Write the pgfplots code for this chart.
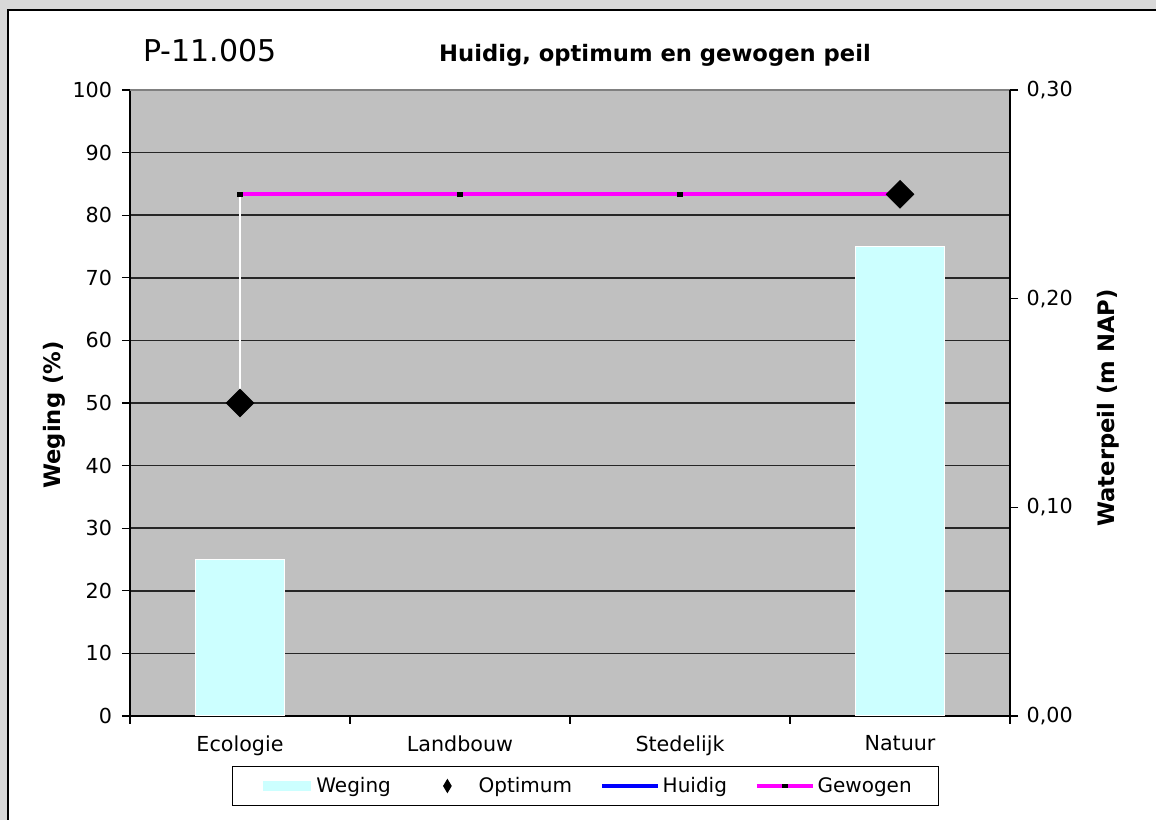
\documentclass[border=0pt]{standalone}
\usepackage{pgfplots}
\pgfplotsset{compat=1.18}
\usepackage{fontspec}
\setmainfont{DejaVu Sans}
\definecolor{bgout}{RGB}{216,216,216}
\definecolor{plotbg}{RGB}{192,192,192}
\definecolor{weg}{RGB}{204,255,255}
\definecolor{huid}{RGB}{0,0,255}
\definecolor{gew}{RGB}{255,0,255}
\pgfkeys{/pgf/number format/assume math mode=true}
\begin{document}
\begin{tikzpicture}
\useasboundingbox (0pt,0pt) rectangle (867pt,615pt);
\fill[bgout] (0pt,0pt) rectangle (867pt,615pt);
\filldraw[fill=white, draw=black, line width=1.1pt] (6pt,-15pt) rectangle (885pt,607.5pt);

\begin{axis}[
  at={(97.5pt,78pt)}, anchor=south west,
  width=660pt, height=469.5pt, scale only axis,
  xmin=-0.5, xmax=3.5, ymin=0, ymax=100,
  axis x line*=bottom, axis y line*=left,
  axis line style={black, line width=1.2pt},
  axis background/.style={fill=plotbg},
  ytick={0,10,...,100},
  ymajorgrids, grid style={black!85, line width=1.1pt},
  tick align=outside, major tick length=6pt,
  tick style={black, line width=1pt},
  xtick={-0.5,0.5,1.5,2.5,3.5}, xticklabels={},
  extra x ticks={0,1,2,3},
  extra x tick labels={Ecologie,Landbouw,Stedelijk,Natuur},
  extra x tick style={major tick length=0pt, tick style={draw=none}, grid=none,
    xticklabel style={yshift=-11pt}},
  tick label style={font=\fontsize{15.5}{18}\selectfont},
  yticklabel style={xshift=-4pt},
]
\addplot[ybar, bar width=67pt, fill=weg, draw=white, line width=1pt] coordinates {(0,25) (3,75)};
\draw[black!50, line width=1.2pt] (rel axis cs:0,1) -- (rel axis cs:1,1);
\end{axis}

\begin{axis}[
  at={(97.5pt,78pt)}, anchor=south west,
  width=660pt, height=469.5pt, scale only axis,
  xmin=-0.5, xmax=3.5, ymin=0, ymax=0.3,
  axis y line*=right, axis x line=none,
  axis line style={black, line width=1.2pt},
  ytick={0,0.1,0.2,0.3},
  tick align=outside, major tick length=6pt,
  tick style={black, line width=1pt},
  tick label style={font=\fontsize{15.5}{18}\selectfont},
  yticklabel style={xshift=3pt, /pgf/number format/fixed, /pgf/number format/fixed zerofill,
    /pgf/number format/precision=2, /pgf/number format/use comma},
  legend style={at={(0.5176,-0.1118)}, anchor=center, draw=black, line width=0.8pt,
    fill=white, font=\fontsize{15}{18}\selectfont, inner xsep=18pt, inner ysep=6pt,
    /tikz/every even column/.append style={column sep=19pt}},
  legend columns=4,
]
\addplot[white, line width=1pt, forget plot] coordinates {(0,0.25) (0,0.15)};
\addplot[huid, line width=3pt, forget plot] coordinates {(0,0.25) (1,0.25) (2,0.25) (3,0.25)};
\addplot[gew, line width=3pt, mark=square*, mark size=1.7pt, mark options={black, line width=0.5pt}, forget plot]
  coordinates {(0,0.25) (1,0.25) (2,0.25) (3,0.25)};
\addplot[only marks, mark=square*, mark size=7.4pt, mark options={rotate=45, fill=black, draw=black}, forget plot]
  coordinates {(0,0.15) (3,0.25)};

\addlegendimage{legend image code/.code={\fill[weg] (5pt,-3pt) rectangle (40pt,3pt); \path (0pt,0pt) (42pt,0pt);}}
\addlegendentry{Weging}
\addlegendimage{legend image code/.code={\path (0pt,0pt) (42pt,0pt); \fill[black] (21pt,-4.7pt) -- (23.8pt,0pt) -- (21pt,4.7pt) -- (18.2pt,0pt) -- cycle;}}
\addlegendentry{Optimum}
\addlegendimage{legend image code/.code={\draw[huid, line width=3pt] (0pt,0pt) -- (42pt,0pt);}}
\addlegendentry{Huidig}
\addlegendimage{legend image code/.code={\draw[gew, line width=3pt] (0pt,0pt) -- (42pt,0pt); \fill[black] (19pt,-1.3pt) rectangle (23pt,1.3pt);}}
\addlegendentry{Gewogen}
\end{axis}

\node[anchor=base west, font=\fontsize{22.5}{26}\selectfont, inner sep=0pt] at (107.25pt,568.5pt) {P-11.005};
\node[anchor=base, font=\bfseries\fontsize{17}{20}\selectfont, inner sep=0pt] at (491.25pt,568.5pt) {Huidig, optimum en gewogen peil};
\node[rotate=90, font=\bfseries\fontsize{17}{20}\selectfont, inner sep=0pt] at (40.5pt,303.75pt) {Weging (\%)};
\node[rotate=90, font=\bfseries\fontsize{17}{20}\selectfont, inner sep=0pt] at (831pt,309pt) {Waterpeil (m NAP)};
\end{tikzpicture}
\end{document}
